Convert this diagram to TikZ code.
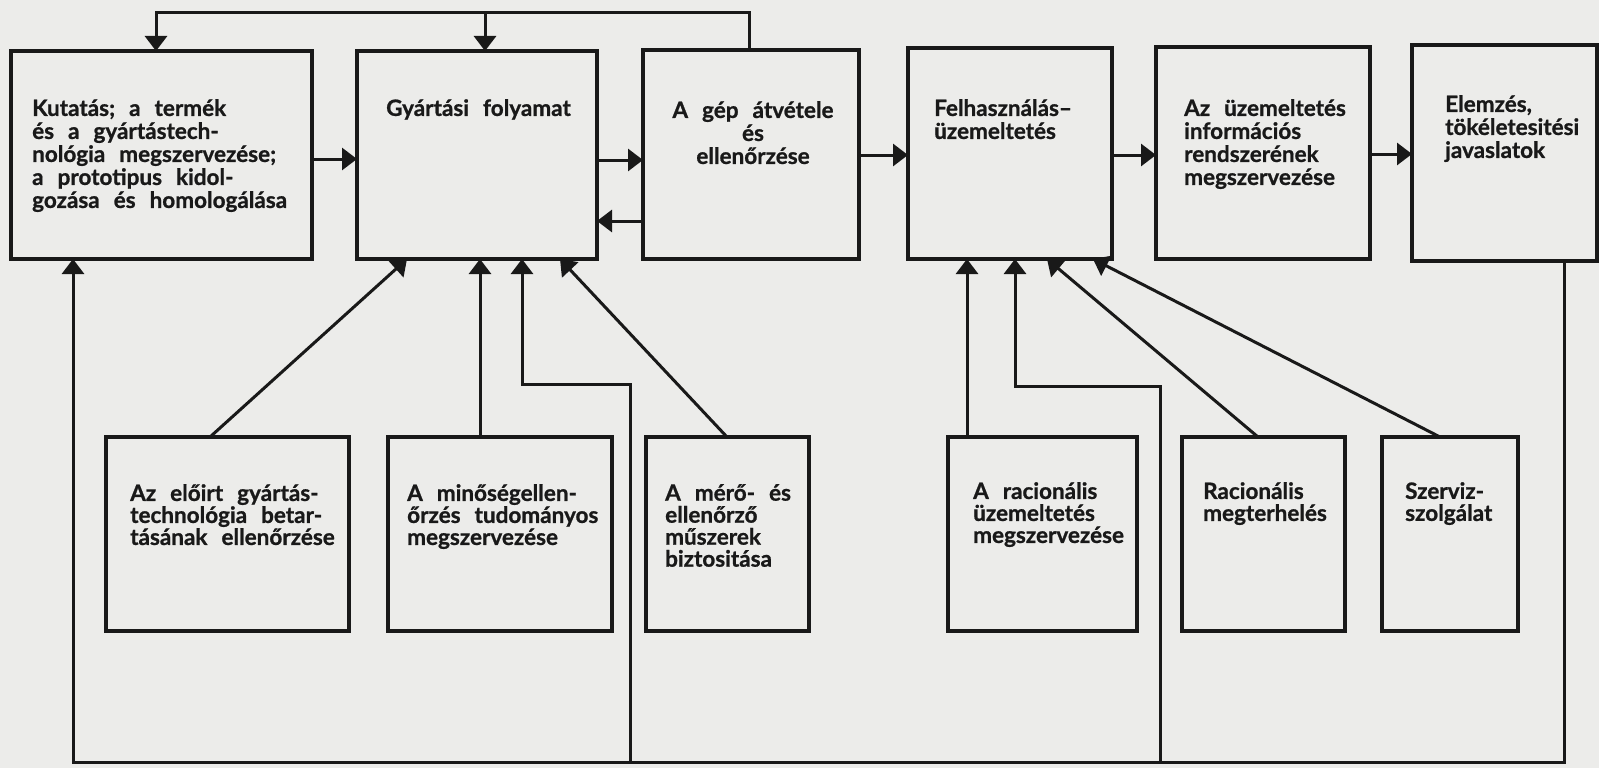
\documentclass[tikz,border=0pt]{standalone}
\usepackage{fontspec}
\setmainfont{Lato}[BoldFeatures={FakeBold=0.9}]
\usetikzlibrary{arrows.meta,calc}
\definecolor{paper}{RGB}{236,236,234}
\definecolor{ink}{RGB}{25,25,25}
\newcommand{\widesp}{\spaceskip=14pt plus 3pt minus 2pt\relax}
\begin{document}
\begin{tikzpicture}[x=1pt,y=-1pt,
  box/.style={draw=ink, line width=3.2pt, rectangle, inner sep=0pt, outer sep=0pt, anchor=north west},
  txt/.style={anchor=north west, inner sep=0pt, align=left, text=ink, font=\fontsize{22.5}{23}\selectfont\bfseries, execute at begin node=\widesp},
  txtb/.style={txt, font=\fontsize{22.5}{22}\selectfont\bfseries},
  txtc/.style={txt, anchor=north, align=center},
  arr/.style={draw=ink, line width=3pt, -{Triangle[length=15pt,width=22pt]}}]
\fill[paper] (0,0) rectangle (1599,768);
\useasboundingbox (0,0) rectangle (1599,768);

% top boxes
\node[box, minimum width=301pt, minimum height=208pt] (K) at (11,51) {};
\node[box, minimum width=240pt, minimum height=208pt] (G) at (357,51) {};
\node[box, minimum width=216pt, minimum height=209pt] (A) at (643,50) {};
\node[box, minimum width=204pt, minimum height=211pt] (F) at (908,48) {};
\node[box, minimum width=214pt, minimum height=212pt] (U) at (1156,47) {};
\node[box, minimum width=185pt, minimum height=216pt] (E) at (1412,45) {};

% bottom boxes
\node[box, minimum width=243pt, minimum height=194pt] (b1) at (106,437) {};
\node[box, minimum width=224pt, minimum height=194pt] (b2) at (388,437) {};
\node[box, minimum width=163pt, minimum height=194pt] (b3) at (646,437) {};
\node[box, minimum width=189pt, minimum height=194pt] (b4) at (948,437) {};
\node[box, minimum width=163pt, minimum height=194pt] (b5) at (1182,437) {};
\node[box, minimum width=136pt, minimum height=194pt] (b6) at (1382,437) {};

% texts
\node[txt] (Kt) at (32,99) {Kutatás; a termék\\és a gyártástech-\\nológia megszervezése;\\a prototipus kidol-\\gozása és homologálása};
\node[txt] (Gt) at (386,99) {Gyártási folyamat};
\node[txtc] (At) at (753,101) {A gép átvétele\\és\\ellenőrzése};
\node[txt] (Ft) at (934,99) {Felhasználás–\\üzemeltetés};
\node[txt] (Ut) at (1184,99) {Az üzemeltetés\\információs\\rendszerének\\megszervezése};
\node[txt] (Et) at (1445,95) {Elemzés,\\tökéletesitési\\javaslatok};

\node[txtb] (b1t) at (130,484) {Az előirt gyártás-\\technológia betar-\\tásának ellenőrzése};
\node[txtb] (b2t) at (407,484) {A minőségellen-\\őrzés tudományos\\megszervezése};
\node[txtb] (b3t) at (665,484) {A mérő- és\\ellenőrző\\műszerek\\biztositása};
\node[txtb] (b4t) at (973,482) {A racionális\\üzemeltetés\\megszervezése};
\node[txtb] (b5t) at (1203,482) {Racionális\\megterhelés};
\node[txtb] (b6t) at (1405,482) {Szerviz-\\szolgálat};

% horizontal arrows between top boxes
\coordinate (h1) at ($(K.north east)+(0,108)$);
\draw[arr] (h1) -- (h1 -| G.west);
\coordinate (h2) at ($(G.north east)+(0,109)$);
\draw[arr] (h2) -- (h2 -| A.west);
\coordinate (h3) at ($(A.north west)+(0,171)$);
\draw[arr] (h3) -- (h3 -| G.east);
\coordinate (h4) at ($(A.north east)+(0,105)$);
\draw[arr] (h4) -- (h4 -| F.west);
\coordinate (h5) at ($(F.north east)+(0,107)$);
\draw[arr] (h5) -- (h5 -| U.west);
\coordinate (h6) at ($(U.north east)+(0,107)$);
\draw[arr] (h6) -- (h6 -| E.west);

% top feedback loop
\coordinate (lvl) at (0,13);
\coordinate (ktop) at ($(K.north west)+(145,0)$);
\coordinate (gtop) at ($(G.north west)+(128,0)$);
\coordinate (atop) at ($(A.north west)+(106,0)$);
\draw[arr, line join=miter] (atop) -- (atop |- lvl) -- (ktop |- lvl) -- (ktop);
\draw[arr] (gtop |- lvl) -- (gtop);

% bottom feedback loop
\coordinate (bot) at (0,762);
\coordinate (ebot) at ($(E.south west)+(152,0)$);
\coordinate (kbot) at ($(K.south west)+(62,0)$);
\draw[arr, line join=miter] (ebot) -- (ebot |- bot) -- (kbot |- bot) -- (kbot);

% inputs to Gyártási folyamat
\draw[arr] ($(b1.north west)+(104,0)$) -- ($(G.south west)+(50,0)$);
\draw[arr] ($(b2.north west)+(92,0)$) -- ($(G.south west)+(123,0)$);
\coordinate (g3) at ($(G.south west)+(165,0)$);
\coordinate (s1) at (630,384);
\draw[arr, line join=miter] (s1 |- bot) -- (s1) -- (s1 -| g3) -- (g3);
\draw[arr] ($(b3.north west)+(81,0)$) -- ($(G.south west)+(203,0)$);

% inputs to Felhasználás
\draw[arr] ($(b4.north west)+(19,0)$) -- ($(F.south west)+(59,0)$);
\coordinate (f2) at ($(F.south west)+(107,0)$);
\coordinate (s2) at (1160,386);
\draw[arr, line join=miter] (s2 |- bot) -- (s2) -- (s2 -| f2) -- (f2);
\draw[arr] ($(b5.north west)+(76,0)$) -- ($(F.south west)+(139,0)$);
\draw[arr] ($(b6.north west)+(58,0)$) -- ($(F.south west)+(185,0)$);
\end{tikzpicture}
\end{document}
